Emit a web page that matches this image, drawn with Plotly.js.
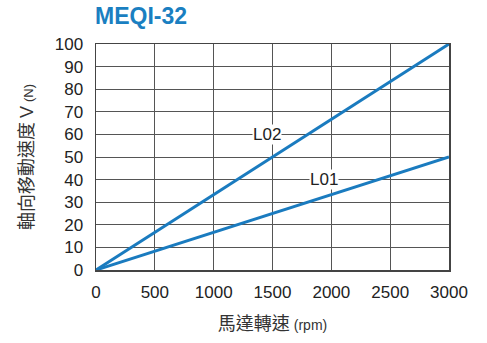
<!DOCTYPE html>
<html><head><meta charset="utf-8">
<script src="https://cdn.plot.ly/plotly-3.0.1.min.js"></script>
<style>html,body{margin:0;padding:0;background:#fff}#chart{width:487px;height:343px}</style>
</head><body><div id="chart"></div>
<script>
const rpm = [0, 3000];
const L01 = [0, 50];
const L02 = [0, 100];
const seriesNames = ["L01", "L02"];
const labelX = [1940, 1450];
const labelY = [40, 60];
const xTicks = [0, 500, 1000, 1500, 2000, 2500, 3000];
const yTicks = [0, 10, 20, 30, 40, 50, 60, 70, 80, 90, 100];

const blue = "#1a7bbf";
const font = "Liberation Sans, Arial, sans-serif";
const cjk = "Noto Sans CJK TC, Liberation Sans, sans-serif";
const data = [
  {x: rpm, y: L01, mode: "lines", line: {color: blue, width: 3}, name: seriesNames[0], hoverinfo: "none"},
  {x: rpm, y: L02, mode: "lines", line: {color: blue, width: 3}, name: seriesNames[1], hoverinfo: "none"}
];
const layout = {
  width: 487, height: 343,
  margin: {l: 96, r: 38, t: 44, b: 73},
  showlegend: false,
  paper_bgcolor: "#fff", plot_bgcolor: "#fff",
  title: {text: "<b>MEQI-32</b>", font: {family: font, size: 23, color: "#1a7fc1"}, x: 95/487, xanchor: "left", y: 1 - 16/343, yanchor: "middle"},
  xaxis: {
    range: [0, 3000], tickvals: xTicks, ticktext: xTicks.map(String),
    showgrid: true, gridcolor: "#555", gridwidth: 1,
    showline: true, linecolor: "#444", linewidth: 1.5, mirror: true,
    zeroline: false, ticks: "", ticklabelstandoff: 6, tickfont: {family: font, size: 17, color: "#222"},
    title: {text: "馬達轉速 <span style='font-size:14px;font-family:Liberation Sans'>(rpm)</span>", font: {family: cjk, size: 18, color: "#333"}, standoff: 16}
  },
  yaxis: {
    range: [0, 100], tickvals: yTicks, ticktext: yTicks.map(String),
    showgrid: true, gridcolor: "#555", gridwidth: 1,
    showline: true, linecolor: "#444", linewidth: 1.5, mirror: true,
    zeroline: false, ticks: "", ticklabelstandoff: 8, tickfont: {family: font, size: 17, color: "#222"},
    title: {text: "軸向移動速度 <span style='font-family:Liberation Sans'>V</span> <span style='font-size:13px;font-family:Liberation Sans'>(N)</span>", font: {family: cjk, size: 18, color: "#333"}, standoff: 16}
  },
  annotations: seriesNames.map((n, i) => ({
    x: labelX[i], y: labelY[i], text: n, showarrow: false,
    font: {family: font, size: 17, color: "#222"}, bgcolor: "#fff", borderpad: 0
  }))
};
Plotly.newPlot("chart", data, layout, {displayModeBar: false, staticPlot: true});
</script></body></html>
